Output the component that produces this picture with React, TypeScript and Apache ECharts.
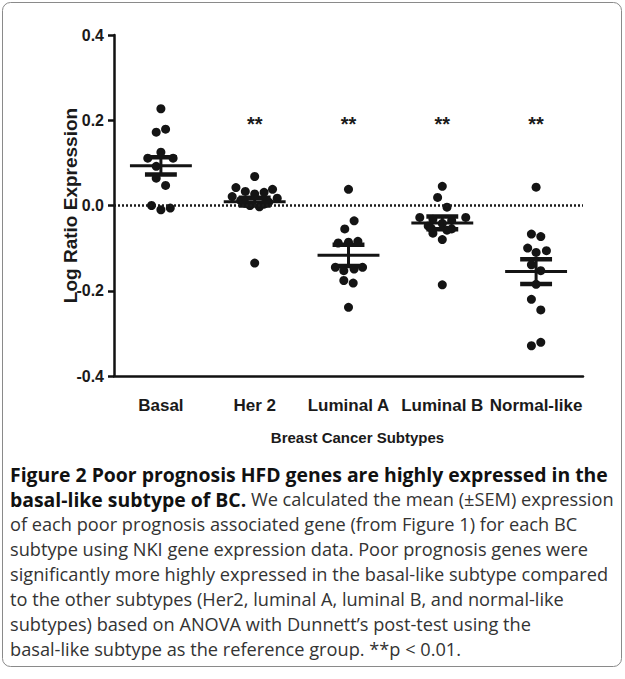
import React, { useEffect, useRef } from "react";
import * as echarts from "echarts";

// ---------- data ----------
const categories = ["Basal", "Her 2", "Luminal A", "Luminal B", "Normal-like"];
const yMin = -0.4;
const yMax = 0.4;
const yInterval = 0.2;

const basalValues = [0.227, 0.172, 0.179, 0.125, 0.111, 0.111, 0.092, 0.064, 0.047, 0.0, -0.01, -0.006];
const basalJitter = [0, -0.05, 0.05, 0, -0.14, 0.13, -0.05, -0.05, 0.05, -0.1, 0, 0.1];

const her2Values = [0.068, 0.042, 0.038, 0.033, 0.031, 0.027, 0.021, 0.017, 0.012, 0.008, 0.005, 0.003, 0.0, -0.003, -0.135];
const her2Jitter = [0, -0.2, 0.19, -0.1, 0.1, 0, -0.24, 0.24, -0.15, 0.15, -0.1, 0.1, -0.05, 0.05, 0];

const lumAValues = [0.038, -0.036, -0.055, -0.084, -0.086, -0.088, -0.145, -0.145, -0.149, -0.153, -0.176, -0.182, -0.239];
const lumAJitter = [0, 0.06, -0.04, 0.1, 0, -0.11, -0.14, 0.15, 0.06, -0.05, -0.05, 0.05, 0];

const lumBValues = [0.045, 0.019, -0.004, -0.028, -0.028, -0.032, -0.035, -0.042, -0.048, -0.053, -0.055, -0.058, -0.065, -0.08, -0.186];
const lumBJitter = [0, -0.05, 0.05, -0.24, 0.25, -0.1, 0.1, 0, -0.15, -0.12, 0.1, 0.05, -0.1, 0, 0];

const normalValues = [0.043, -0.067, -0.073, -0.1, -0.106, -0.11, -0.139, -0.153, -0.185, -0.22, -0.245, -0.321, -0.329];
const normalJitter = [0, -0.05, 0.05, -0.09, 0.11, 0, -0.05, 0.05, 0, -0.05, 0.05, 0.05, -0.05];

const groupValues = [basalValues, her2Values, lumAValues, lumBValues, normalValues];
const groupJitter = [basalJitter, her2Jitter, lumAJitter, lumBJitter, normalJitter];

const groupMeans = [0.093, 0.009, -0.117, -0.041, -0.155];
const groupSEM = [0.02, 0.009, 0.025, 0.015, 0.029];
const significance = ["", "**", "**", "**", "**"];
const significanceLevel = 0.2;

const yAxisTitle = "Log Ratio Expression";
const xAxisTitle = "Breast Cancer Subtypes";

const captionLines = [
  "{b|Figure 2 Poor prognosis HFD genes are highly expressed in the}",
  "{b|basal-like subtype of BC.} We calculated the mean (±SEM) expression",
  "of each poor prognosis associated gene (from Figure 1) for each BC",
  "subtype using NKI gene expression data. Poor prognosis genes were",
  "significantly more highly expressed in the basal-like subtype compared",
  "to the other subtypes (Her2, luminal A, luminal B, and normal-like",
  "subtypes) based on ANOVA with Dunnett\u2019s post-test using the",
  "basal-like subtype as the reference group. **p < 0.01.",
];

// ---------- component ----------
const AXIS_FONT = "'Liberation Sans', Arial, Helvetica, sans-serif";
const CAPTION_FONT = "'Open Sans', 'Noto Sans', sans-serif";

export default function App() {
  const ref = useRef<HTMLDivElement | null>(null);

  useEffect(() => {
    if (!ref.current) return;
    const chart = echarts.init(ref.current, undefined, { renderer: "svg" });

    const points: number[][] = [];
    groupValues.forEach((vals, gi) => {
      vals.forEach((v, k) => points.push([gi + groupJitter[gi][k], v]));
    });

    const summary = groupMeans.map((m, i) => [i, m, groupSEM[i]]);
    const sigData = significance
      .map((s, i) => ({ value: [i, significanceLevel], label: s }))
      .filter((d) => d.label !== "");

    const captionGraphics: any[] = captionLines.map((line, i) => ({
      type: "text",
      x: 10,
      y: 474 + i * 25,
      style: {
        text: line,
        fill: "#333",
        font: `400 18.2px ${CAPTION_FONT}`,
        verticalAlign: "middle",
        rich: {
          b: { fontWeight: "bold", fill: "#111", fontSize: 19.4, fontFamily: CAPTION_FONT },
        },
      },
    }));

    const option: any = {
      animation: false,
      backgroundColor: "#fff",
      grid: { left: 114, top: 35, width: 469, height: 341, containLabel: false },
      xAxis: [
        {
          type: "category",
          data: categories,
          boundaryGap: true,
          axisLine: { onZero: false, lineStyle: { color: "#111", width: 2.5 } },
          axisTick: { alignWithLabel: true, length: 7, lineStyle: { color: "#111", width: 2.5 } },
          axisLabel: {
            color: "#1a1a1a",
            fontFamily: AXIS_FONT,
            fontWeight: "bold",
            fontSize: 17,
            margin: 21,
            interval: 0,
          },
          splitLine: { show: false },
          name: xAxisTitle,
          nameLocation: "middle",
          nameGap: 54,
          nameMoveOverlap: false,
          nameTextStyle: {
            color: "#1a1a1a",
            fontFamily: AXIS_FONT,
            fontWeight: "bold",
            fontSize: 15,
            padding: [0, 0, 0, 18],
          },
        },
        { type: "value", min: -0.5, max: 4.5, show: false, axisLine: { onZero: false } },
      ],
      yAxis: {
        type: "value",
        min: yMin,
        max: yMax,
        interval: yInterval,
        axisLine: { show: true, onZero: false, lineStyle: { color: "#111", width: 2.5 } },
        axisTick: { show: true, length: 6, lineStyle: { color: "#111", width: 2.5 } },
        axisLabel: {
          color: "#1a1a1a",
          fontFamily: AXIS_FONT,
          fontWeight: "bold",
          fontSize: 16,
          margin: 10,
          formatter: (v: number) => (Math.abs(v) < 1e-9 ? "0.0" : v.toFixed(1)),
        },
        splitLine: { show: false },
        name: yAxisTitle,
        nameLocation: "middle",
        nameGap: 34,
        nameRotate: 90,
        nameMoveOverlap: false,
        nameTextStyle: {
          color: "#1a1a1a",
          fontFamily: AXIS_FONT,
          fontWeight: "bold",
          fontSize: 19,
        },
      },
      series: [
        {
          type: "scatter",
          xAxisIndex: 1,
          data: points,
          symbol: "circle",
          symbolSize: 9,
          itemStyle: { color: "#141414", opacity: 1 },
          z: 3,
          markLine: {
            silent: true,
            symbol: ["none", "none"],
            label: { show: false },
            lineStyle: { color: "#1a1a1a", width: 2.5, type: [2, 2], opacity: 1 },
            data: [{ yAxis: 0 }],
          },
        },
        {
          type: "custom",
          xAxisIndex: 1,
          data: summary,
          z: 4,
          renderItem: (params: any, api: any) => {
            const i = api.value(0);
            const m = api.value(1);
            const s = api.value(2);
            const c = api.coord([i, m]);
            const hi = api.coord([i, m + s]);
            const lo = api.coord([i, m - s]);
            const w = api.size([1, 0])[0];
            const mh = w * 0.33;
            const sh = w * 0.17;
            const stroke = "#141414";
            return {
              type: "group",
              children: [
                { type: "line", shape: { x1: c[0] - mh, y1: c[1], x2: c[0] + mh, y2: c[1] }, style: { stroke, lineWidth: 3 } },
                { type: "line", shape: { x1: hi[0], y1: hi[1], x2: lo[0], y2: lo[1] }, style: { stroke, lineWidth: 3 } },
                { type: "line", shape: { x1: hi[0] - sh, y1: hi[1], x2: hi[0] + sh, y2: hi[1] }, style: { stroke, lineWidth: 4.5 } },
                { type: "line", shape: { x1: lo[0] - sh, y1: lo[1], x2: lo[0] + sh, y2: lo[1] }, style: { stroke, lineWidth: 4.5 } },
              ],
            };
          },
        },
        {
          type: "custom",
          xAxisIndex: 0,
          data: sigData,
          z: 4,
          renderItem: (params: any, api: any) => {
            const c = api.coord([api.value(0), api.value(1)]);
            const d = sigData[params.dataIndex];
            return {
              type: "text",
              x: c[0],
              y: c[1] + 4,
              style: {
                text: d.label,
                fill: "#1a1a1a",
                font: `bold 20px ${AXIS_FONT}`,
                textAlign: "center",
                textVerticalAlign: "middle",
              },
            };
          },
        },
      ],
      graphic: [
        {
          type: "rect",
          shape: { x: 2.5, y: 2.5, width: 619, height: 664, r: 8 },
          style: { fill: "none", stroke: "#8a8a8a", lineWidth: 1 },
          silent: true,
        },
        ...captionGraphics,
      ],
    };

    chart.setOption(option);
    return () => chart.dispose();
  }, []);

  return (
    <div
      ref={ref}
      style={{ position: "fixed", left: 0, top: 0, width: 625, height: 679, background: "#fff" }}
    />
  );
}
